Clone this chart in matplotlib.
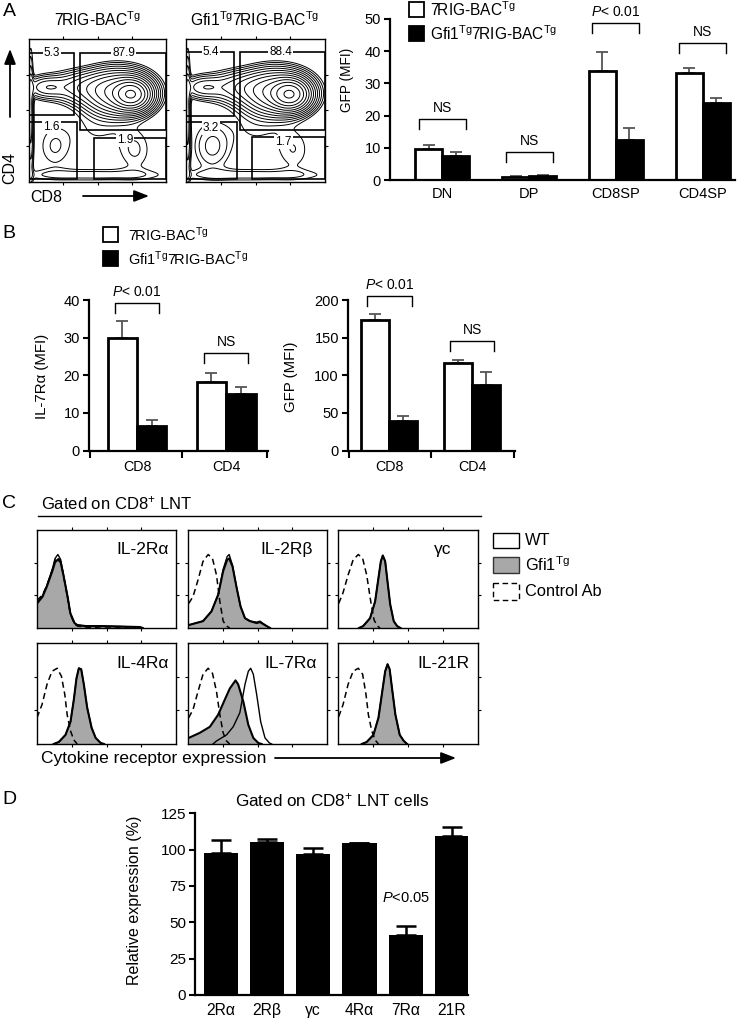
import numpy as np
import matplotlib
matplotlib.use("Agg")
import matplotlib.pyplot as plt
from matplotlib.patches import Rectangle

plt.rcParams['font.family'] = ['Liberation Sans', 'DejaVu Sans']
plt.rcParams['mathtext.fontset'] = 'custom'
plt.rcParams['mathtext.rm'] = 'Liberation Sans'
plt.rcParams['mathtext.it'] = 'Liberation Sans:italic'
plt.rcParams['mathtext.bf'] = 'Liberation Sans:bold'

# ======================= DATA =======================
# ---- Panel A: flow populations (x = CD8, y = CD4, log decades 0-4)
pop_x = [3.0, 2.6, 1.7, 0.5, 0.05, 0.75, 3.1, 2.0, 1.8]
pop_y = [2.45, 2.5, 2.65, 2.65, 1.8, 1.0, 0.9, 1.5, 0.2]
pop_sx = [0.28, 0.5, 0.6, 0.35, 0.05, 0.35, 0.35, 0.6, 1.6]
pop_sy = [0.22, 0.32, 0.25, 0.18, 1.0, 0.45, 0.45, 0.5, 0.12]
pop_w_wt = [1.0, 0.35, 0.08, 0.05, 0.05, 0.012, 0.012, 0.008, 0.015]
pop_w_gfi = [1.0, 0.35, 0.08, 0.05, 0.05, 0.02, 0.011, 0.008, 0.015]

TG_WT = '$\\mathrm{7RIG}$-BAC$^{\\mathrm{Tg}}$'
TG_GFI = 'Gfi1$^{\\mathrm{Tg}}$7RIG-BAC$^{\\mathrm{Tg}}$'
flow_titles = [TG_WT, TG_GFI]
# gates: (x0, x1, y0, y1) for CD4SP, DP, DN, CD8SP
gates_wt = [(0, 1.31, 1.87, 3.61), (1.49, 4.0, 1.45, 3.61), (0, 1.41, 0.08, 1.67), (1.90, 4.0, 0.08, 1.22)]
gates_gfi = [(0, 1.37, 1.85, 3.63), (1.54, 4.0, 1.45, 3.63), (0, 1.46, 0.08, 1.68), (1.91, 4.0, 0.08, 1.25)]
gate_pct_wt = ['5.3', '87.9', '1.6', '1.9']
gate_pct_gfi = ['5.4', '88.4', '3.2', '1.7']
gate_lab_wt = [(0.67, 3.61), (2.76, 3.61), (0.66, 1.55), (2.8, 1.18)]
gate_lab_gfi = [(0.72, 3.63), (2.73, 3.63), (0.72, 1.50), (2.8, 1.12)]

# ---- Panel A: GFP MFI bars
a_cats = ['DN', 'DP', 'CD8SP', 'CD4SP']
a_wt = [9.5, 0.9, 33.9, 33.3]
a_wt_err = [1.3, 0.4, 6.0, 1.6]
a_gfi = [7.4, 1.2, 12.4, 23.8]
a_gfi_err = [1.2, 0.5, 3.6, 1.6]
a_sig = ['NS', 'NS', '$\\mathit{P}$< 0.01', 'NS']
a_bracket = [18.9, 8.7, 48.8, 42.5]

# ---- Panel B
b_cats = ['CD8', 'CD4']
b_il7_wt = [30.0, 18.2]
b_il7_wt_err = [4.5, 2.4]
b_il7_gfi = [6.5, 15.0]
b_il7_gfi_err = [1.7, 1.9]
b_il7_sig = ['$\\mathit{P}$< 0.01', 'NS']
b_il7_bracket = [39.2, 25.9]
b_gfp_wt = [173.0, 116.0]
b_gfp_wt_err = [8.0, 4.0]
b_gfp_gfi = [39.0, 87.0]
b_gfp_gfi_err = [7.0, 17.0]
b_gfp_sig = ['$\\mathit{P}$< 0.01', 'NS']
b_gfp_bracket = [204.8, 145.0]

# ---- Panel C: histograms (x = fluorescence 0-100, y = normalised count)
hist_labels = ['IL-2R\u03b1', 'IL-2R\u03b2', '\u03b3c', 'IL-4R\u03b1', 'IL-7R\u03b1', 'IL-21R']

il2ra_x = [0, 4, 7, 11, 13, 15, 17, 19, 22, 24, 27, 29, 35, 45, 60, 74, 76]
il2ra_gfi = [0.25, 0.32, 0.42, 0.58, 0.67, 0.70, 0.67, 0.54, 0.32, 0.15, 0.05, 0.03, 0.02, 0.02, 0.015, 0.01, 0.0]
il2ra_wt = [0.25, 0.33, 0.43, 0.60, 0.71, 0.75, 0.70, 0.55, 0.32, 0.15, 0.05, 0.03, 0.02, 0.02, 0.015, 0.01, 0.0]
il2ra_ctrl = [0.28, 0.34, 0.43, 0.59, 0.69, 0.72, 0.68, 0.54, 0.31, 0.14, 0.04, 0.02, 0.01, 0.0, 0.0, 0.0, 0.0]

il2rb_ctrl_x = [0.5, 3.6, 7.2, 10.8, 14.5, 17.6, 20.5, 22.9, 25.3, 27.7, 30]
il2rb_ctrl = [0.25, 0.32, 0.49, 0.68, 0.75, 0.71, 0.54, 0.27, 0.07, 0.02, 0.0]
il2rb_x = [0.5, 10.8, 16.9, 21.7, 25.3, 28.2, 29.6, 32, 35, 37.8, 41, 44.6, 49.4, 51.8, 55.4, 59]
il2rb_gfi = [0.03, 0.07, 0.17, 0.34, 0.58, 0.695, 0.71, 0.63, 0.41, 0.22, 0.10, 0.07, 0.05, 0.06, 0.03, 0.0]
il2rb_wt = [0.03, 0.07, 0.17, 0.34, 0.60, 0.73, 0.75, 0.64, 0.41, 0.22, 0.10, 0.07, 0.06, 0.07, 0.03, 0.0]

gc_ctrl_x = [0.5, 3.6, 7.2, 10.8, 14.5, 17.6, 20.5, 23.4, 25.8, 28.2, 30]
gc_ctrl = [0.25, 0.36, 0.54, 0.695, 0.75, 0.71, 0.54, 0.27, 0.08, 0.02, 0.0]
gc_x = [15, 18, 22.9, 26.5, 28.9, 30.6, 32, 33.7, 35.4, 37.3, 39.8, 42.2, 44.6]
gc_gfi = [0.0, 0.02, 0.10, 0.27, 0.51, 0.68, 0.74, 0.68, 0.47, 0.24, 0.07, 0.02, 0.0]
gc_wt = [0.0, 0.02, 0.10, 0.27, 0.51, 0.68, 0.74, 0.68, 0.47, 0.24, 0.07, 0.02, 0.0]

il4ra_ctrl_x = [0, 3.6, 7.2, 10.8, 14.5, 17.6, 20, 21.7, 24.1, 26.5, 28.9]
il4ra_ctrl = [0.26, 0.39, 0.59, 0.72, 0.75, 0.67, 0.49, 0.29, 0.13, 0.04, 0.0]
il4ra_x = [12, 15.7, 20.5, 24.1, 26.5, 28.4, 30.1, 31.8, 33.7, 36.1, 39.3, 42.2, 45.8, 48.2]
il4ra_gfi = [0.0, 0.02, 0.09, 0.22, 0.44, 0.65, 0.75, 0.74, 0.59, 0.36, 0.16, 0.06, 0.01, 0.0]
il4ra_wt = [0.0, 0.02, 0.09, 0.22, 0.44, 0.65, 0.75, 0.74, 0.59, 0.36, 0.16, 0.06, 0.01, 0.0]

il7ra_ctrl_x = [0.5, 3.6, 7.2, 10.8, 14.5, 17.6, 20.5, 22.9, 25.3, 27.7, 30]
il7ra_ctrl = [0.26, 0.34, 0.52, 0.69, 0.75, 0.70, 0.52, 0.29, 0.11, 0.03, 0.0]
il7ra_gfi_x = [0.5, 8.4, 15.7, 21.7, 26.5, 30.1, 34.2, 36.1, 39.8, 43.4, 47, 50.6, 53]
il7ra_gfi = [0.06, 0.11, 0.17, 0.29, 0.44, 0.55, 0.63, 0.59, 0.42, 0.19, 0.06, 0.01, 0.0]
il7ra_wt_x = [18, 20.5, 27.7, 32.5, 37.3, 41, 43.4, 45.1, 47, 49.4, 52.3, 55.4, 58.6, 60.2]
il7ra_wt = [0.0, 0.03, 0.09, 0.17, 0.31, 0.59, 0.72, 0.75, 0.69, 0.49, 0.22, 0.06, 0.01, 0.0]

il21r_ctrl_x = [0.5, 3.6, 7.2, 10.8, 14.5, 17.6, 20, 21.7, 24.1, 26.5, 28.9]
il21r_ctrl = [0.27, 0.39, 0.59, 0.72, 0.75, 0.69, 0.49, 0.29, 0.13, 0.04, 0.0]
il21r_x = [17, 20.5, 25.3, 28.9, 31.3, 33.7, 35.4, 36.9, 38.6, 41, 44.1, 47, 49.4]
il21r_gfi = [0.0, 0.02, 0.09, 0.26, 0.49, 0.72, 0.79, 0.74, 0.55, 0.29, 0.09, 0.03, 0.0]
il21r_wt = [0.0, 0.02, 0.09, 0.26, 0.49, 0.72, 0.79, 0.74, 0.55, 0.29, 0.09, 0.03, 0.0]

# ---- Panel D
d_cats = ['2R\u03b1', '2R\u03b2', '\u03b3c', '4R\u03b1', '7R\u03b1', '21R']
d_vals = [98.0, 105.5, 97.0, 104.3, 41.3, 109.4]
d_err = [8.8, 1.9, 4.0, 0.6, 6.4, 6.0]

# ======================= FIGURE =======================
W, H = 745, 1026
fig = plt.figure(figsize=(W / 100, H / 100), dpi=100)


def box(l, t, r, b):
    return [l / W, 1 - b / H, (r - l) / W, (b - t) / H]


# ---------- Panel A flow contour plots ----------
gx = np.linspace(0, 4, 260)
GX, GY = np.meshgrid(gx, gx)


def density(weights):
    Z = np.zeros_like(GX)
    for x, y, sx, sy, w in zip(pop_x, pop_y, pop_sx, pop_sy, weights):
        Z += w * np.exp(-0.5 * (((GX - x) / sx) ** 2 + ((GY - y) / sy) ** 2))
    return Z


flow_boxes = [box(29, 39, 166, 182), box(186, 39, 325, 182)]
title_x = [97, 255]
for k, (weights, gates, pcts, labpos) in enumerate(
        [(pop_w_wt, gates_wt, gate_pct_wt, gate_lab_wt),
         (pop_w_gfi, gates_gfi, gate_pct_gfi, gate_lab_gfi)]):
    ax = fig.add_axes(flow_boxes[k])
    Z = density(weights)
    levels = Z.max() * np.geomspace(0.006, 0.9, 13)
    ax.contour(GX, GY, Z, levels=levels, colors='black', linewidths=0.7)
    for (x0, x1, y0, y1) in gates:
        ax.add_patch(Rectangle((x0, y0), x1 - x0, y1 - y0, fill=False,
                               ec='black', lw=1.2, zorder=3))
    for p, (lx, ly) in zip(pcts, labpos):
        ax.text(lx, ly, p, ha='center', va='center', fontsize=8.5, zorder=4,
                bbox=dict(fc='white', ec='none', pad=0.8))
    ax.set_xlim(0, 4)
    ax.set_ylim(0, 4)
    ax.set_xticks([1, 2, 3])
    ax.set_yticks([1, 2, 3])
    ax.tick_params(direction='out', length=2.5, width=0.8, top=True, right=True,
                   labelbottom=False, labelleft=False)
    for s in ax.spines.values():
        s.set_linewidth(1.0)

# ---------- bar helpers ----------


def style_bar_axes(ax):
    for s in ['top', 'right']:
        ax.spines[s].set_visible(False)
    for s in ['left', 'bottom']:
        ax.spines[s].set_linewidth(1.6)
    ax.tick_params(axis='y', direction='out', length=4.5, width=1.5, labelsize=10.5, pad=2)


def paired_bars(ax, wt, wt_err, gfi, gfi_err, width, ecol='#555555', elw=1.3, cap=4):
    pos = np.arange(len(wt))
    ax.bar(pos - width / 2, wt, width, color='white', edgecolor='black', linewidth=2.0, zorder=2)
    ax.bar(pos + width / 2, gfi, width, color='black', edgecolor='black', linewidth=2.0, zorder=2)
    n = len(wt)
    ax.errorbar(pos - width / 2, wt, yerr=[np.zeros(n), wt_err], fmt='none', ecolor=ecol,
                elinewidth=elw, capsize=cap, capthick=elw, zorder=1)
    ax.errorbar(pos + width / 2, gfi, yerr=[np.zeros(n), gfi_err], fmt='none', ecolor=ecol,
                elinewidth=elw, capsize=cap, capthick=elw, zorder=1)
    return pos


def brackets(ax, pos, ys, labels, half, tip, fs=10):
    for p, y, lab in zip(pos, ys, labels):
        ax.plot([p - half, p - half, p + half, p + half], [y - tip, y, y, y - tip],
                color='black', lw=1.0, clip_on=False)
        ax.annotate(lab, (p, y), xytext=(0, 8), textcoords='offset points',
                    ha='center', va='center', fontsize=fs, annotation_clip=False)


# ---------- Panel A bar chart ----------
axA = fig.add_axes(box(390, 19, 735, 180))
posA = paired_bars(axA, a_wt, a_wt_err, a_gfi, a_gfi_err, 0.31)
axA.set_xlim(-0.6, 3.37)
axA.set_ylim(0, 50)
axA.set_yticks([0, 10, 20, 30, 40, 50])
axA.set_xticks(posA)
axA.set_xticklabels(a_cats, fontsize=10.5)
style_bar_axes(axA)
axA.tick_params(axis='x', length=0, pad=5)
axA.set_ylabel('GFP (MFI)', fontsize=9.8)
axA.yaxis.set_label_coords(-0.105, 0.62)
brackets(axA, posA, a_bracket, a_sig, 0.27, 3.2)

# ---------- Panel B ----------
axB1 = fig.add_axes(box(89, 300, 268, 450.5))
posB = paired_bars(axB1, b_il7_wt, b_il7_wt_err, b_il7_gfi, b_il7_gfi_err, 0.33)
axB1.set_xlim(-0.54, 1.47)
axB1.set_ylim(0, 40)
axB1.set_yticks([0, 10, 20, 30, 40])
style_bar_axes(axB1)
axB1.set_ylabel('IL-7R\u03b1 (MFI)', fontsize=10.8)
axB1.yaxis.set_label_coords(-0.225, 0.49)
brackets(axB1, posB, b_il7_bracket, b_il7_sig, 0.25, 2.6)

axB2 = fig.add_axes(box(348, 300, 515, 450.5))
paired_bars(axB2, b_gfp_wt, b_gfp_wt_err, b_gfp_gfi, b_gfp_gfi_err, 0.34)
axB2.set_xlim(-0.5, 1.52)
axB2.set_ylim(0, 200)
axB2.set_yticks([0, 50, 100, 150, 200])
style_bar_axes(axB2)
axB2.set_ylabel('GFP (MFI)', fontsize=10.8)
axB2.yaxis.set_label_coords(-0.30, 0.49)
brackets(axB2, posB, b_gfp_bracket, b_gfp_sig, 0.27, 13)

for ax in (axB1, axB2):
    lo, hi = ax.get_xlim()
    ax.set_xticks(posB)
    ax.set_xticklabels(b_cats, fontsize=10.3)
    ax.set_xticks([lo + 0.01, 0.5, hi - 0.01], minor=True)
    ax.tick_params(axis='x', which='major', length=0, pad=7)
    ax.tick_params(axis='x', which='minor', direction='out', length=5, width=1.5)

# ---------- Panel C histograms ----------
hist_sets = [
    (il2ra_x, il2ra_gfi, il2ra_x, il2ra_wt, il2ra_x, il2ra_ctrl),
    (il2rb_x, il2rb_gfi, il2rb_x, il2rb_wt, il2rb_ctrl_x, il2rb_ctrl),
    (gc_x, gc_gfi, gc_x, gc_wt, gc_ctrl_x, gc_ctrl),
    (il4ra_x, il4ra_gfi, il4ra_x, il4ra_wt, il4ra_ctrl_x, il4ra_ctrl),
    (il7ra_gfi_x, il7ra_gfi, il7ra_wt_x, il7ra_wt, il7ra_ctrl_x, il7ra_ctrl),
    (il21r_x, il21r_gfi, il21r_x, il21r_wt, il21r_ctrl_x, il21r_ctrl),
]
col_px = [(37, 176), (188, 327), (338, 478)]
row_px = [(530, 628), (643, 744)]
lab_right = [0.947, 0.90, 0.81, 0.947, 0.93, 0.94]
for i, (gxs, gys, wxs, wys, cxs, cys) in enumerate(hist_sets):
    r, c = divmod(i, 3)
    ax = fig.add_axes(box(col_px[c][0], row_px[r][0], col_px[c][1], row_px[r][1]))
    ax.fill_between(gxs, gys, 0, color='#a8a8a8', lw=0, zorder=1)
    ax.plot(gxs, gys, color='black', lw=1.5, zorder=2)
    ax.plot(wxs, wys, color='black', lw=1.0, zorder=3)
    ax.plot(cxs, cys, color='black', lw=1.1, ls=(0, (4, 2.5)), zorder=4)
    ax.set_xlim(0, 100)
    ax.set_ylim(0, 1)
    ax.set_xticks([25, 50, 75])
    ax.set_yticks([1 / 3, 2 / 3])
    ax.tick_params(direction='out', length=2.5, width=0.8, top=True, right=True,
                   labelbottom=False, labelleft=False)
    for s in ax.spines.values():
        s.set_linewidth(1.0)
    ax.text(lab_right[i], 0.80, hist_labels[i], transform=ax.transAxes,
            ha='right', va='center', fontsize=12.5)

# ---------- Panel D ----------
axD = fig.add_axes(box(195, 813.3, 468, 995))
posD = np.arange(len(d_vals))
axD.bar(posD, d_vals, 0.74, color='black', zorder=2)
axD.errorbar(posD, d_vals, yerr=[np.zeros(len(d_vals)), d_err], fmt='none', ecolor='black',
             elinewidth=1.8, capsize=7, capthick=1.8, zorder=1)
axD.set_xlim(-0.56, 5.35)
axD.set_ylim(0, 125)
axD.set_yticks([0, 25, 50, 75, 100, 125])
axD.set_xticks(posD)
axD.set_xticklabels(d_cats, fontsize=11.3)
style_bar_axes(axD)
axD.tick_params(axis='y', labelsize=11)
axD.tick_params(axis='x', length=0, pad=6)
axD.set_ylabel('Relative expression (%)', fontsize=11.5)
axD.yaxis.set_label_coords(-0.195, 0.52)
axD.annotate('$\\mathit{P}$<0.05', (posD[4], d_vals[4] + d_err[4]), xytext=(0, 20),
             textcoords='offset points', ha='center', va='center', fontsize=10.5)

# ---------- overlay: labels, legends, arrows ----------
ov = fig.add_axes([0, 0, 1, 1])
ov.set_xlim(0, W)
ov.set_ylim(H, 0)
ov.axis('off')

for lab, (x, y) in zip('ABCD', [(9, 12), (9, 234), (9, 503), (9, 800)]):
    ov.text(x, y, lab, fontsize=14, ha='center', va='center')

for t, x in zip(flow_titles, title_x):
    ov.text(x, 20, t, fontsize=11.3, ha='center', va='center')

ov.text(10, 168, 'CD4', rotation=90, fontsize=11.5, ha='center', va='center')
ov.text(30, 197, 'CD8', fontsize=11.5, ha='left', va='center')
arrow_kw = dict(arrowstyle='-|>,head_length=0.9,head_width=0.35', color='black', lw=1.3,
                shrinkA=0, shrinkB=0, mutation_scale=10)
ov.annotate('', xy=(10, 49), xytext=(10, 117), arrowprops=arrow_kw)
ov.annotate('', xy=(149, 196), xytext=(83, 196), arrowprops=arrow_kw)

# legend A / B
for (sx, sy, tx, fs) in [(409, 2, 430, 11.2), (103, 227, 128, 10.5)]:
    ov.add_patch(Rectangle((sx, sy), 15, 15, fc='white', ec='black', lw=1.3))
    ov.add_patch(Rectangle((sx, sy + 24), 15, 15, fc='black', ec='black', lw=1.3))
    ov.text(tx, sy + 7.5, TG_WT, fontsize=fs, ha='left', va='center')
    ov.text(tx, sy + 31.5, TG_GFI, fontsize=fs, ha='left', va='center')

# panel C header
ov.text(41, 503, 'Gated on CD8$^{+}$ LNT', fontsize=12, ha='left', va='center')
ov.plot([38, 481], [516, 516], color='black', lw=1.0)

# legend C
ov.add_patch(Rectangle((493, 533), 26, 15, fc='white', ec='black', lw=1.0))
ov.add_patch(Rectangle((493, 557), 26, 16, fc='#a8a8a8', ec='#333333', lw=1.0))
ov.add_patch(Rectangle((493, 583), 26, 17, fc='none', ec='black', lw=1.0, ls=(0, (4, 2.5))))
ov.text(525, 540.5, 'WT', fontsize=11.8, ha='left', va='center')
ov.text(525, 565, 'Gfi1$^{\\mathrm{Tg}}$', fontsize=11.8, ha='left', va='center')
ov.text(525, 591.5, 'Control Ab', fontsize=11.8, ha='left', va='center')

ov.text(41, 758, 'Cytokine receptor expression', fontsize=12.5, ha='left', va='center')
ov.annotate('', xy=(456, 758), xytext=(275, 758), arrowprops=arrow_kw)

# panel D title
ov.text(332, 800, 'Gated on CD8$^{+}$ LNT cells', fontsize=12.3, ha='center', va='center')

fig.savefig('out.png', dpi=100)
